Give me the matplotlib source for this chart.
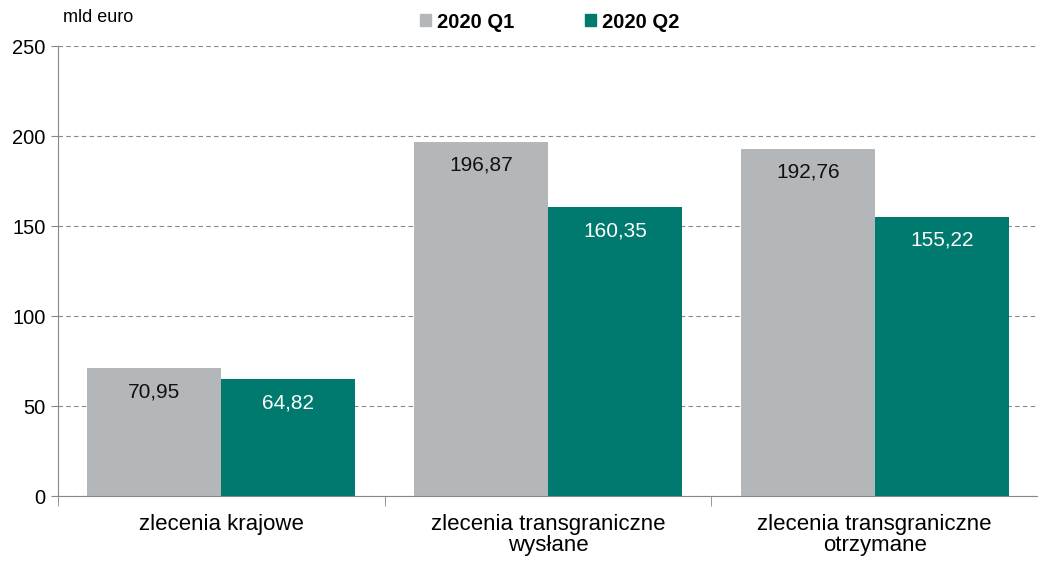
import matplotlib
matplotlib.use("Agg")
import matplotlib.pyplot as plt
import numpy as np
from matplotlib.patches import Patch

categories = ["zlecenia krajowe", "zlecenia transgraniczne\nwysłane", "zlecenia transgraniczne\notrzymane"]
q1 = [70.95, 196.87, 192.76]
q2 = [64.82, 160.35, 155.22]
series_names = ["2020 Q1", "2020 Q2"]

GRAY = "#b4b7ba"
TEAL = "#007a6e"
plt.rcParams["font.family"] = ["Liberation Sans", "DejaVu Sans"]

fig = plt.figure(figsize=(10.38, 5.62), dpi=100)
ax = fig.add_axes([58/1038, 1 - 496/562, 1 - 58/1038, 450/562])

x = np.arange(len(categories))
w = 0.41
ax.bar(x - w/2, q1, w, color=GRAY, zorder=2)
ax.bar(x + w/2, q2, w, color=TEAL, zorder=2)

def fmt(v):
    return f"{v:.2f}".replace(".", ",")

for i in range(len(categories)):
    ax.annotate(fmt(q1[i]), (x[i] - w/2, q1[i]), xytext=(0, -10), textcoords="offset points",
                ha="center", va="top", fontsize=15, color="#111111")
    ax.annotate(fmt(q2[i]), (x[i] + w/2, q2[i]), xytext=(0, -10), textcoords="offset points",
                ha="center", va="top", fontsize=15, color="white")

ax.set_ylim(0, 250)
ax.set_xlim(-0.5, 2.46)
ax.set_yticks(np.arange(0, 251, 50))
ax.tick_params(axis="y", labelsize=14.5, length=5, color="#888888", pad=4)
ax.yaxis.grid(True, linestyle=(0, (4, 3)), color="#888888", linewidth=0.8, zorder=0)
ax.set_axisbelow(True)

ax.set_xticks(x)
ax.set_xticklabels(categories, fontsize=16, linespacing=1.0)
ax.tick_params(axis="x", length=0, pad=13)
ax.set_xticks(np.arange(-0.5, 3.0, 1.0), minor=True)
ax.tick_params(axis="x", which="minor", length=7, color="#888888", direction="out")

for s in ["top", "right"]:
    ax.spines[s].set_visible(False)
for s in ["left", "bottom"]:
    ax.spines[s].set_color("#888888")

fig.text(63/1038, 1 - 18/562, "mld euro", fontsize=13, va="center", ha="left")

handles = [Patch(color=GRAY), Patch(color=TEAL)]
fig.legend(handles, series_names, loc="center", bbox_to_anchor=(550/1038, 1 - 22/562), ncol=2,
           frameon=False, prop={"weight": "bold", "size": 14.5}, handlelength=0.55, handleheight=0.55,
           handletextpad=0.3, columnspacing=3.5)

fig.savefig("out.png", dpi=100)
